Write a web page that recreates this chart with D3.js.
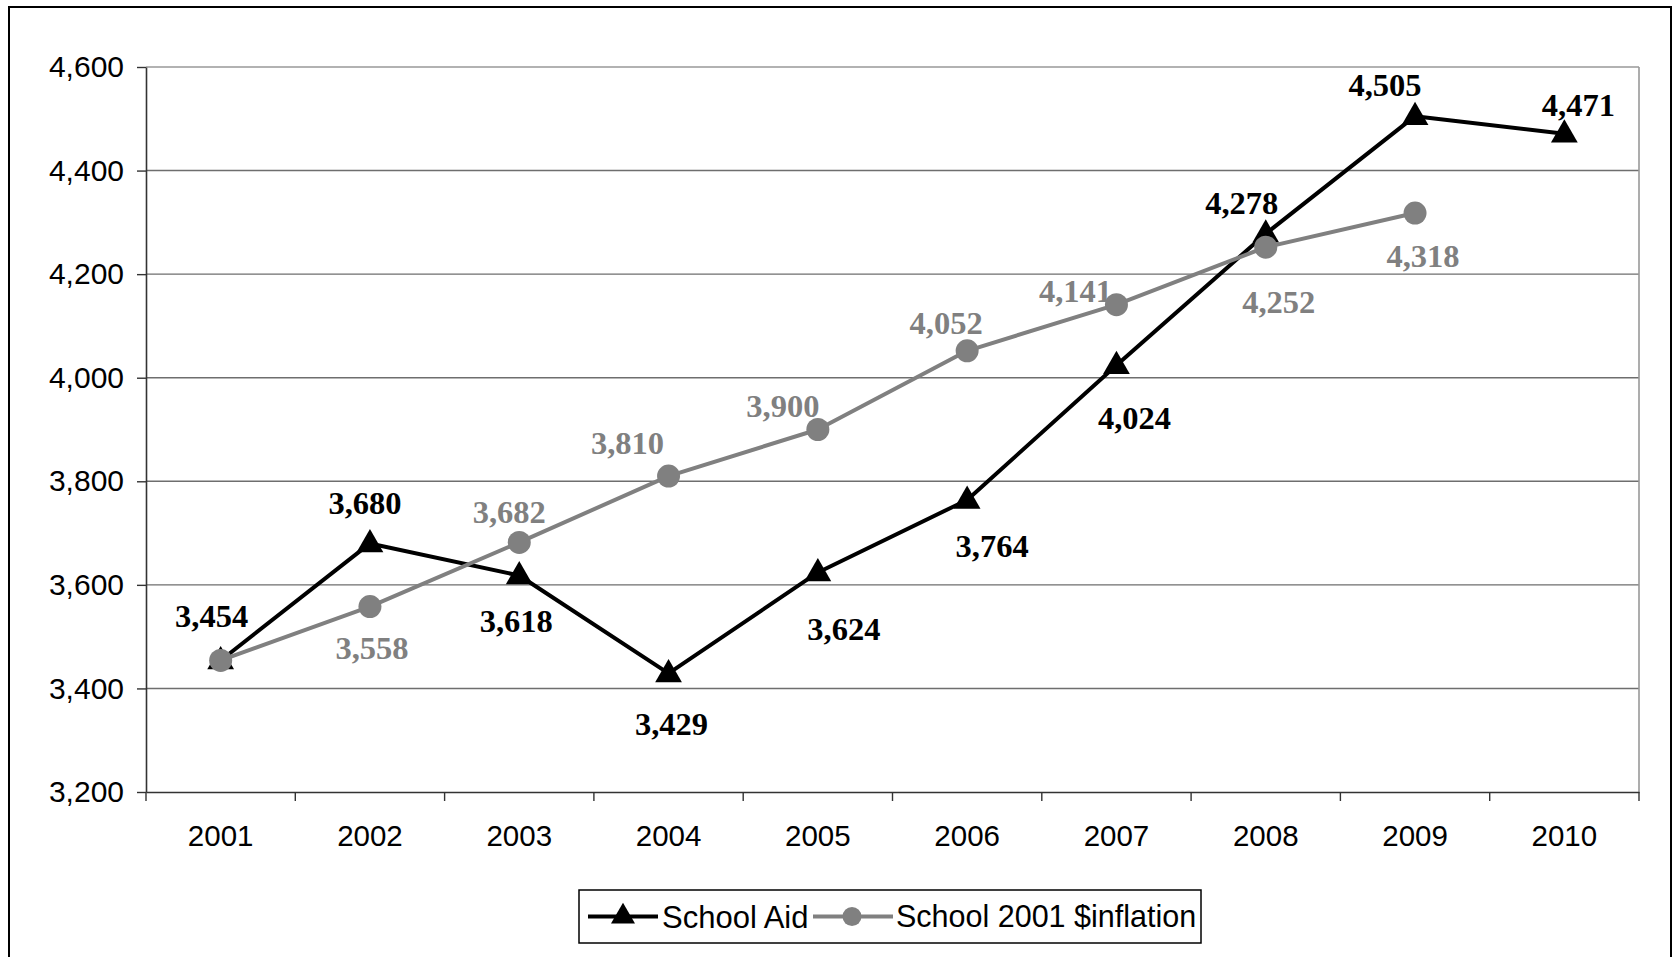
<!DOCTYPE html>
<html>
<head>
<meta charset="utf-8">
<script src="https://cdn.jsdelivr.net/npm/d3@7"></script>
<style>
  html, body { margin: 0; padding: 0; background: #fff; }
  svg { display: block; }
</style>
</head>
<body>
<div id="chart"></div>
<script>
// 数据
const years = ["2001", "2002", "2003", "2004", "2005", "2006", "2007", "2008", "2009", "2010"];
const schoolAid = [3454, 3680, 3618, 3429, 3624, 3764, 4024, 4278, 4505, 4471];
const schoolInflation = [3454, 3558, 3682, 3810, 3900, 4052, 4141, 4252, 4318, null];
const yTicks = [3200, 3400, 3600, 3800, 4000, 4200, 4400, 4600];

// 数据标签偏移 (相对数据点), null = 不显示
const aidLabelOffset = [[-9, -45], [-5, -40], [-3, 45], [3, 51], [26, 57], [25, 46], [18, 53], [-24, -31], [-30, -31], [14, -29]];
const inflLabelOffset = [null, [2, 41], [-10, -30], [-41, -33], [-35, -24], [-21, -28], [-41, -14], [13, 55], [8, 43], null];

const W = 1677, H = 957;
const plot = { left: 146, right: 1639, top: 67, bottom: 792 };
const gray = "#808080";
const fmt = d3.format(",");

const svg = d3.select("#chart")
  .append("svg")
  .attr("width", W)
  .attr("height", H);

// 外框
svg.append("rect")
  .attr("x", 9).attr("y", 7)
  .attr("width", 1662).attr("height", 960)
  .attr("fill", "none")
  .attr("stroke", "#000")
  .attr("stroke-width", 2);

// 比例尺
const x = d3.scaleBand().domain(years).range([plot.left, plot.right]).padding(0);
const y = d3.scaleLinear().domain([3200, 4600]).range([plot.bottom, plot.top]);
const cx = d => x(d) + x.bandwidth() / 2;

// 网格线
svg.append("g")
  .selectAll("line")
  .data(yTicks.slice(1))
  .enter()
  .append("line")
  .attr("x1", plot.left).attr("x2", plot.right)
  .attr("y1", d => y(d)).attr("y2", d => y(d))
  .attr("stroke", d => d === 4600 ? "#999" : "#6e6e6e")
  .attr("stroke-width", 1.4);

// 右边框
svg.append("line")
  .attr("x1", plot.right).attr("x2", plot.right)
  .attr("y1", plot.top).attr("y2", plot.bottom)
  .attr("stroke", "#999")
  .attr("stroke-width", 1.6);

// Y 轴
const yAxis = svg.append("g")
  .attr("transform", `translate(${plot.left},0)`)
  .call(d3.axisLeft(y).tickValues(yTicks).tickSize(9).tickSizeOuter(0).tickPadding(13).tickFormat(fmt));
yAxis.select(".domain").attr("stroke", "#333").attr("stroke-width", 1.6);
yAxis.selectAll(".tick line").attr("stroke", "#333").attr("stroke-width", 1.4);
yAxis.selectAll("text")
  .attr("font-family", "Liberation Sans, Arial, sans-serif")
  .attr("font-size", 30)
  .attr("fill", "#000");

// X 轴
const xAxis = svg.append("g")
  .attr("transform", `translate(0,${plot.bottom})`)
  .call(d3.axisBottom(x).tickSize(0).tickSizeOuter(0).tickPadding(33));
xAxis.select(".domain").attr("stroke", "#333").attr("stroke-width", 1.6);
xAxis.selectAll("text")
  .attr("font-family", "Liberation Sans, Arial, sans-serif")
  .attr("font-size", 29.5)
  .attr("fill", "#000");

// X 轴刻度 (类别边界)
xAxis.selectAll(".bound")
  .data(years.map(d => x(d)).concat([plot.right]))
  .enter()
  .append("line")
  .attr("class", "bound")
  .attr("x1", d => d).attr("x2", d => d)
  .attr("y1", 0).attr("y2", 9)
  .attr("stroke", "#333")
  .attr("stroke-width", 1.4);

// 三角形 / 圆形
const tri = d3.symbol().type(d3.symbolTriangle).size(310);

function drawSeries(values, color, marker) {
  const pts = values.map((v, i) => ({ year: years[i], v: v })).filter(d => d.v !== null);
  const line = d3.line().x(d => cx(d.year)).y(d => y(d.v));

  svg.append("path")
    .datum(pts)
    .attr("fill", "none")
    .attr("stroke", color)
    .attr("stroke-width", 4)
    .attr("stroke-linejoin", "round")
    .attr("d", line);

  if (marker === "triangle") {
    svg.selectAll(null)
      .data(pts)
      .enter()
      .append("path")
      .attr("d", tri)
      .attr("transform", d => `translate(${cx(d.year)},${y(d.v) + 1})`)
      .attr("fill", color);
  } else {
    svg.selectAll(null)
      .data(pts)
      .enter()
      .append("circle")
      .attr("cx", d => cx(d.year))
      .attr("cy", d => y(d.v))
      .attr("r", 11.5)
      .attr("fill", color);
  }
}

function drawLabels(values, offsets, color) {
  values.forEach((v, i) => {
    if (v === null || !offsets[i]) return;
    svg.append("text")
      .attr("x", cx(years[i]) + offsets[i][0])
      .attr("y", y(v) + offsets[i][1])
      .attr("dy", "0.34em")
      .attr("text-anchor", "middle")
      .attr("font-family", "Liberation Serif, Times New Roman, serif")
      .attr("font-weight", "bold")
      .attr("font-size", 32.5)
      .attr("fill", color)
      .text(fmt(v));
  });
}

drawSeries(schoolAid, "#000", "triangle");
drawSeries(schoolInflation, gray, "circle");
drawLabels(schoolAid, aidLabelOffset, "#000");
drawLabels(schoolInflation, inflLabelOffset, gray);

// 图例
const legend = svg.append("g");
legend.append("rect")
  .attr("x", 579).attr("y", 890)
  .attr("width", 622).attr("height", 53)
  .attr("fill", "#fff")
  .attr("stroke", "#000")
  .attr("stroke-width", 1.5);

const legendY = 916.5;
legend.append("line")
  .attr("x1", 588).attr("x2", 658)
  .attr("y1", legendY).attr("y2", legendY)
  .attr("stroke", "#000").attr("stroke-width", 4);
legend.append("path")
  .attr("d", d3.symbol().type(d3.symbolTriangle).size(250))
  .attr("transform", `translate(623,${legendY})`)
  .attr("fill", "#000");
legend.append("text")
  .attr("x", 662).attr("y", legendY)
  .attr("dy", "0.36em")
  .attr("font-family", "Liberation Sans, Arial, sans-serif")
  .attr("font-size", 31)
  .text("School Aid");

legend.append("line")
  .attr("x1", 813).attr("x2", 893)
  .attr("y1", legendY).attr("y2", legendY)
  .attr("stroke", gray).attr("stroke-width", 4);
legend.append("circle")
  .attr("cx", 852).attr("cy", legendY)
  .attr("r", 9.5)
  .attr("fill", gray);
legend.append("text")
  .attr("x", 896).attr("y", legendY)
  .attr("dy", "0.36em")
  .attr("font-family", "Liberation Sans, Arial, sans-serif")
  .attr("font-size", 30.5)
  .text("School 2001 $inflation");
</script>
</body>
</html>
